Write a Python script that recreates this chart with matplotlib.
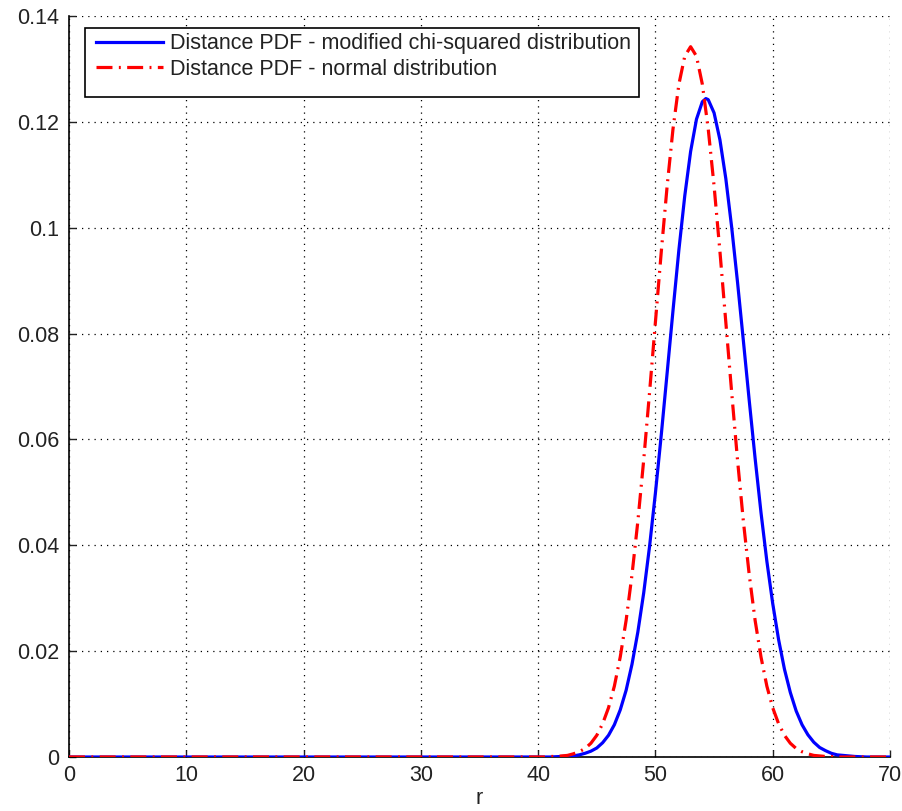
import matplotlib

matplotlib.use("Agg")

import matplotlib.pyplot as plt
from matplotlib.patches import Rectangle

# Distance PDF, modified chi-squared
r_chi = [0, 40, 41, 42, 43, 43.5, 44, 44.5, 45, 45.5, 46, 46.5, 47, 47.5,
         48, 48.5, 49, 49.5, 50, 50.5, 51, 51.5, 52, 52.5, 53, 53.5, 54,
         54.3, 54.5, 55, 55.5, 56, 56.5, 57, 57.5, 58, 58.5, 59, 59.5, 60,
         60.5, 61, 61.5, 62, 62.5, 63, 63.5, 64, 64.5, 65, 65.5, 66, 67,
         68, 70]
pdf_chi = [0, 0, 0, 0.0001, 0.0002, 0.0004, 0.0007, 0.0011, 0.0017, 0.0027,
           0.0041, 0.0061, 0.0089, 0.0126, 0.0175, 0.0236, 0.0310, 0.0398,
           0.0499, 0.0609, 0.0726, 0.0844, 0.0958, 0.1060, 0.1144, 0.1205,
           0.1238, 0.1244, 0.1242, 0.1217, 0.1166, 0.1093, 0.1001, 0.0897,
           0.0786, 0.0673, 0.0564, 0.0462, 0.0370, 0.0290, 0.0222, 0.0166,
           0.0122, 0.0087, 0.0061, 0.0042, 0.0028, 0.0018, 0.0012, 0.0007,
           0.0004, 0.0003, 0.0001, 0, 0]

# Distance PDF, normal approximation
r_norm = [0, 40, 40.5, 41, 41.5, 42, 42.5, 43, 43.5, 44, 44.5, 45, 45.5,
          46, 46.5, 47, 47.5, 48, 48.5, 49, 49.5, 50, 50.5, 51, 51.5, 52,
          52.5, 53, 53.5, 54, 54.5, 55, 55.5, 56, 56.5, 57, 57.5, 58, 58.5,
          59, 59.5, 60, 60.5, 61, 61.5, 62, 62.5, 63, 63.5, 64, 64.5, 65,
          65.5, 66, 70]
pdf_norm = [0, 0, 0, 0.0001, 0.0001, 0.0002, 0.0003, 0.0006, 0.0010, 0.0016,
            0.0026, 0.0041, 0.0063, 0.0093, 0.0134, 0.0189, 0.0258, 0.0344,
            0.0445, 0.0561, 0.0689, 0.0822, 0.0955, 0.1079, 0.1187, 0.1271,
            0.1324, 0.1342, 0.1324, 0.1271, 0.1187, 0.1079, 0.0955, 0.0822,
            0.0689, 0.0561, 0.0445, 0.0344, 0.0258, 0.0189, 0.0134, 0.0093,
            0.0063, 0.0041, 0.0026, 0.0016, 0.0010, 0.0006, 0.0003, 0.0002,
            0.0001, 0.0001, 0, 0, 0]

x_ticks = [0, 10, 20, 30, 40, 50, 60, 70]
y_ticks = [0, 0.02, 0.04, 0.06, 0.08, 0.1, 0.12, 0.14]
y_tick_labels = ["0", "0.02", "0.04", "0.06", "0.08", "0.1", "0.12", "0.14"]

W, H, DPI = 902, 811, 100
FS = 15.5
INK = "#222222"
plt.rcParams["font.family"] = ["Liberation Sans", "DejaVu Sans"]

fig = plt.figure(figsize=(W / DPI, H / DPI), dpi=DPI)
fig.patch.set_facecolor("white")
# axes box in pixels: left 69, right 890, top 16, bottom 757
ax = fig.add_axes([69 / W, (H - 757) / H, (890 - 69) / W, (757 - 16) / H])

ax.plot(r_chi, pdf_chi, color="#0000ff", lw=2.3, solid_joinstyle="round",
        label="Distance PDF - modified chi-squared distribution", zorder=3)
ax.plot(r_norm, pdf_norm, color="#ff0000", lw=2.3,
        dashes=(5, 2, 0.6, 2),
        label="Distance PDF - normal distribution", zorder=4)

ax.set_xlim(0, 70)
ax.set_ylim(0, 0.14)
ax.set_xticks(x_ticks)
ax.set_xticklabels([str(t) for t in x_ticks])
ax.set_yticks(y_ticks)
ax.set_yticklabels(y_tick_labels)
ax.tick_params(direction="in", length=5, width=1, labelsize=FS,
               colors=INK, top=False, right=False)
ax.tick_params(axis="y", pad=7)
ax.tick_params(axis="x", pad=6)
ax.set_xlabel("r", fontsize=FS, color=INK, labelpad=1)

for side in ("top", "right"):
    ax.spines[side].set_visible(False)
for side in ("left", "bottom"):
    ax.spines[side].set_linewidth(1.2)

ax.grid(True, color="black", linestyle=(0, (1, 4)), linewidth=0.9)
ax.set_axisbelow(True)

# legend box drawn by hand (MATLAB leaves extra room under the last row)
box = Rectangle((85 / W, 1 - 97 / H), (639 - 85) / W, (97 - 28) / H,
                transform=fig.transFigure, facecolor="white",
                edgecolor="black", linewidth=1.2, zorder=5, clip_on=False)
ax.add_patch(box)
leg = ax.legend(loc="upper left", bbox_to_anchor=(94 / W, 1 - 31 / H),
                bbox_transform=fig.transFigure, borderaxespad=0,
                fontsize=FS, handlelength=3.1, handletextpad=0.35,
                borderpad=0.1, labelspacing=0.22, frameon=False)
leg.set_zorder(6)
for txt in leg.get_texts():
    txt.set_color(INK)

fig.savefig("out.png", dpi=DPI, facecolor="white")
